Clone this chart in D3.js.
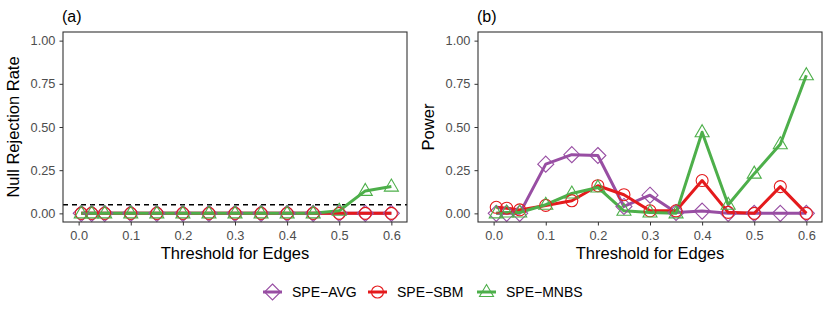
<!DOCTYPE html>
<html lang="en">
<head>
<meta charset="utf-8">
<title>Null rejection rate and power</title>
<style>
body{ margin:0; background:#fff; }
svg text{ font-family:"Liberation Sans", Arial, sans-serif; }
.axis text{ fill:#4d4d4d; font-size:12.8px; }
.axis path{ display:none; }
.axis line{ stroke:#333; }
</style>
<script src="https://d3js.org/d3.v7.min.js"></script>
</head>
<body>
<div id="chart"></div>
<script>
// thresholds for edges
var thresholds = [0.005, 0.025, 0.05, 0.1, 0.15, 0.2, 0.25, 0.3, 0.35, 0.4, 0.45, 0.5, 0.55, 0.6];

// (a) null rejection rate
var nullAvg  = [0, 0, 0, 0, 0, 0, 0, 0, 0, 0, 0, 0, 0, 0];
var nullSbm  = [0, 0, 0, 0, 0, 0, 0, 0, 0, 0, 0, 0, 0, 0];
var nullMnbs = [0, 0, 0, 0, 0, 0, 0, 0, 0, 0, 0, 0.015, 0.13, 0.155];

// (b) power
var powAvg  = [0, 0, 0, 0.285, 0.34, 0.335, 0.04, 0.105, 0.005, 0.013, 0, 0, 0, 0];
var powSbm  = [0.035, 0.03, 0.02, 0.046, 0.073, 0.16, 0.108, 0.015, 0.015, 0.19, 0.006, 0, 0.155, 0];
var powMnbs = [0, 0.005, 0.005, 0.05, 0.115, 0.15, 0.015, 0.005, 0, 0.47, 0.05, 0.23, 0.4, 0.8];

var seriesNames = ['SPE\u2212AVG', 'SPE\u2212SBM', 'SPE\u2212MNBS'];
var colors = ['#984EA3', '#E41A1C', '#4DAF4A'];
var shapes = ['diamond', 'circle', 'triangle'];

var yTicks = [0, 0.25, 0.5, 0.75, 1];
var xTicks = [0, 0.1, 0.2, 0.3, 0.4, 0.5, 0.6];
var refLine = 0.05;

var W = 830, H = 312;
var svg = d3.select('#chart').append('svg').attr('width', W).attr('height', H);

function markerPath(shape) {
  if (shape === 'diamond') return 'M0,-8L8,0L0,8L-8,0Z';
  if (shape === 'triangle') return 'M0,-7.5L7,4.5L-7,4.5Z';
  return d3.arc()({innerRadius: 0, outerRadius: 6, startAngle: 0, endAngle: 2 * Math.PI});
}

function panel(left, label, ytitle, data, dashed) {
  var top = 32, right = left + 344, bottom = 222;
  var x = d3.scaleLinear().domain([-0.03, 0.63]).range([left, right]);
  var y = d3.scaleLinear().domain([-0.05, 1.05]).range([bottom, top]);
  var g = svg.append('g');

  g.append('g').attr('class', 'axis')
    .attr('transform', 'translate(' + left + ',0)')
    .call(d3.axisLeft(y).tickValues(yTicks).tickFormat(d3.format('.2f')).tickSize(3.5).tickPadding(4));
  g.append('g').attr('class', 'axis')
    .attr('transform', 'translate(0,' + bottom + ')')
    .call(d3.axisBottom(x).tickValues(xTicks).tickFormat(d3.format('.1f')).tickSize(3.5).tickPadding(5));

  if (dashed) {
    g.append('line')
      .attr('x1', left).attr('x2', right)
      .attr('y1', y(refLine)).attr('y2', y(refLine))
      .style('stroke', '#000').style('stroke-width', 1.4)
      .style('stroke-dasharray', '5,4');
  }

  var line = d3.line().x(function(d, i) { return x(thresholds[i]); }).y(function(d) { return y(d); });
  data.forEach(function(vals, k) {
    g.append('path').attr('d', line(vals))
      .style('fill', 'none').style('stroke', colors[k]).style('stroke-width', 3)
      .style('stroke-linejoin', 'round');
  });
  data.forEach(function(vals, k) {
    g.selectAll('.pt' + k).data(vals).enter().append('path')
      .attr('d', markerPath(shapes[k]))
      .attr('transform', function(d, i) { return 'translate(' + x(thresholds[i]) + ',' + y(d) + ')'; })
      .style('fill', 'none').style('stroke', colors[k]).style('stroke-width', 1.1);
  });

  g.append('rect').attr('x', left).attr('y', top)
    .attr('width', right - left).attr('height', bottom - top)
    .style('fill', 'none').style('stroke', '#333').style('stroke-width', 1.1);

  g.append('text').attr('x', left - 1).attr('y', 22).text(label)
    .style('font-size', '16px').style('fill', '#000');
  g.append('text').attr('x', (left + right) / 2).attr('y', 259)
    .attr('text-anchor', 'middle').text('Threshold for Edges')
    .style('font-size', '16.5px').style('fill', '#000');
  g.append('text')
    .attr('transform', 'translate(' + (left - 44) + ',' + ((top + bottom) / 2) + ') rotate(-90)')
    .attr('text-anchor', 'middle').text(ytitle)
    .style('font-size', '16.5px').style('fill', '#000');
}

panel(63, '(a)', 'Null Rejection Rate', [nullAvg, nullSbm, nullMnbs], true);
panel(478, '(b)', 'Power', [powAvg, powSbm, powMnbs], false);

// legend
var legendX = [263, 368, 477];
var legend = svg.append('g');
seriesNames.forEach(function(name, k) {
  var lg = legend.append('g').attr('transform', 'translate(' + legendX[k] + ',292)');
  lg.append('line').attr('x1', 0).attr('x2', 19).attr('y1', 0).attr('y2', 0)
    .style('stroke', colors[k]).style('stroke-width', 3);
  lg.append('path').attr('d', markerPath(shapes[k])).attr('transform', 'translate(9.5,0)')
    .style('fill', 'none').style('stroke', colors[k]).style('stroke-width', 1.1);
  lg.append('text').attr('x', 29).attr('y', 5).text(name)
    .style('font-size', '14px').style('fill', '#000');
});
</script>
</body>
</html>
